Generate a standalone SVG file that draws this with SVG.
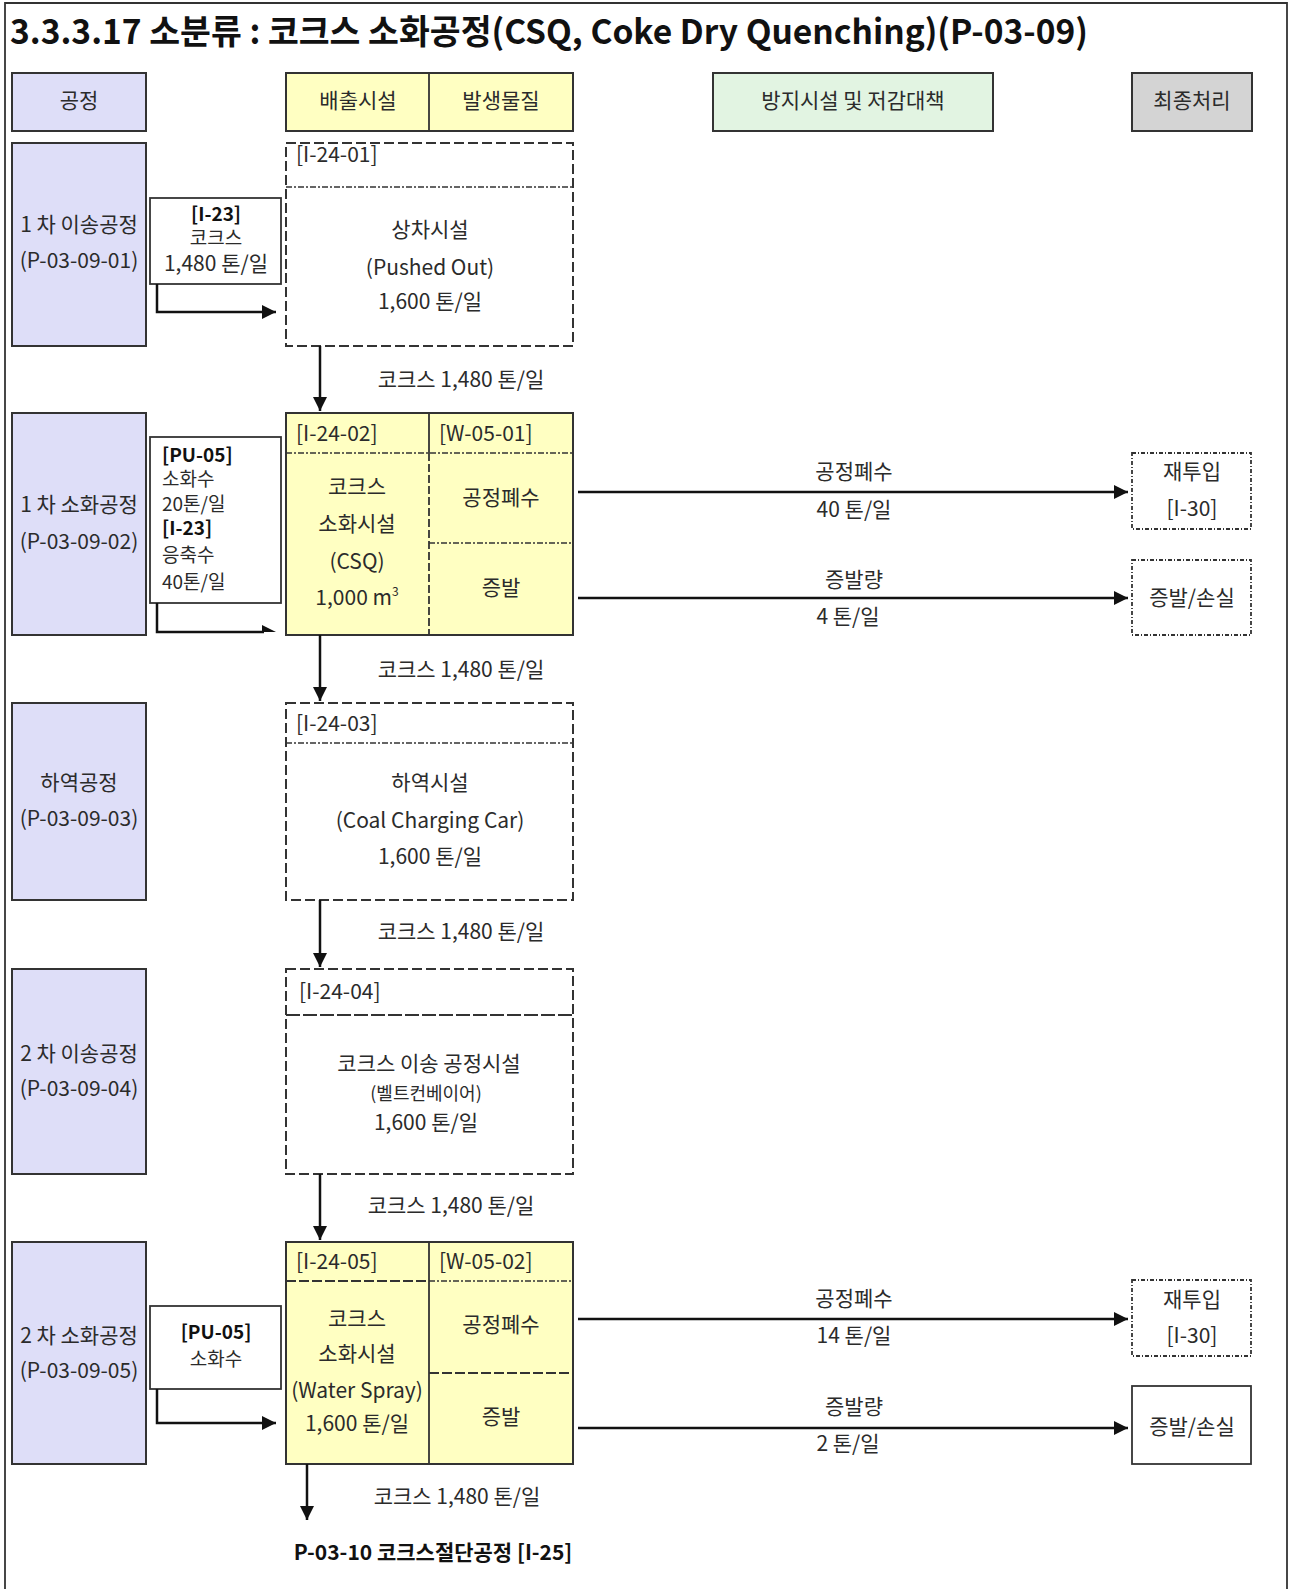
<svg xmlns="http://www.w3.org/2000/svg" width="1289" height="1589" viewBox="0 0 1289 1589">
<style>
.t{font-family:"Noto Sans CJK KR","Noto Sans",sans-serif;font-size:21px;fill:#2b2b2b}
.s{font-size:19px}
.ttl{font-size:34px}
.sm{font-size:18px}
.c{text-anchor:middle}
.b{font-weight:bold;fill:#111}
.proc{fill:#DEDEF8;stroke:#333;stroke-width:2}
.yel{fill:#FFFFC2;stroke:#333;stroke-width:2}
.grn{fill:#E2F4E2;stroke:#333;stroke-width:2}
.gry{fill:#D4D4D4;stroke:#333;stroke-width:2}
.box{fill:#fff;stroke:#333;stroke-width:1.8}
.dash{fill:#fff;stroke:#333;stroke-width:2;stroke-dasharray:10 4}
.dot{fill:none;stroke:#333;stroke-width:1.5;stroke-dasharray:6 2 2 2}
.ddot{fill:#fff;stroke:#333;stroke-width:1.8;stroke-dasharray:4 2 1 2}
.ln{fill:none;stroke:#333;stroke-width:1.8}
.conn{fill:none;stroke:#111;stroke-width:2.5}
</style>
<defs>
<marker id="arr" viewBox="0 0 14 14" refX="14" refY="7" markerWidth="14" markerHeight="14" orient="auto" markerUnits="userSpaceOnUse">
<path d="M0,0 L14,7 L0,14 z" fill="#111"/>
</marker>
</defs>
<rect width="1289" height="1589" fill="#fff"/>
<path d="M5,1589 V3 H1287 V1589" class="ln"/>
<text class="t b ttl" x="10" y="44" textLength="1078" lengthAdjust="spacingAndGlyphs">3.3.3.17 소분류 : 코크스 소화공정(CSQ, Coke Dry Quenching)(P-03-09)</text>

<g id="header">
<rect class="proc" x="12" y="73" width="134" height="58"/>
<text class="t c" x="79" y="108">공정</text>
<rect class="yel" x="286" y="73" width="287" height="58"/>
<line class="ln" x1="429" y1="73" x2="429" y2="131"/>
<text class="t c" x="358" y="108">배출시설</text>
<text class="t c" x="501" y="108">발생물질</text>
<rect class="grn" x="713" y="73" width="280" height="58"/>
<text class="t c" x="853" y="108">방지시설 및 저감대책</text>
<rect class="gry" x="1132" y="73" width="120" height="58"/>
<text class="t c" x="1192" y="108">최종처리</text>
</g>

<g id="p1">
<rect class="proc" x="12" y="143" width="134" height="203"/>
<text class="t c" x="79" y="232">1 차 이송공정</text>
<text class="t c" x="79" y="268">(P-03-09-01)</text>
</g>
<g id="in1">
<rect class="box" x="150" y="198" width="131" height="86"/>
<text class="t s c b" x="216" y="221">[I-23]</text>
<text class="t s c" x="216" y="245">코크스</text>
<text class="t c" x="216" y="271">1,480 톤/일</text>
</g>
<g id="f1">
<rect class="dash" x="286" y="143" width="287" height="203"/>
<line class="dot" x1="286" y1="187" x2="573" y2="187"/>
<text class="t" x="296" y="162">[I-24-01]</text>
<text class="t c" x="430" y="237">상차시설</text>
<text class="t c" x="430" y="275">(Pushed Out)</text>
<text class="t c" x="430" y="309">1,600 톤/일</text>
</g>

<g id="p2">
<rect class="proc" x="12" y="413" width="134" height="222"/>
<text class="t c" x="79" y="512">1 차 소화공정</text>
<text class="t c" x="79" y="549">(P-03-09-02)</text>
</g>
<g id="in2">
<rect class="box" x="150" y="437" width="131" height="166"/>
<text class="t s b" x="162" y="462">[PU-05]</text>
<text class="t s" x="162" y="486">소화수</text>
<text class="t s" x="162" y="511">20톤/일</text>
<text class="t s b" x="162" y="535">[I-23]</text>
<text class="t s" x="162" y="562">응축수</text>
<text class="t s" x="162" y="589">40톤/일</text>
</g>
<g id="f2">
<rect class="yel" x="286" y="413" width="287" height="222"/>
<line class="ln" x1="429" y1="413" x2="429" y2="453"/>
<line class="ln" x1="429" y1="453" x2="429" y2="635" stroke-dasharray="8 3"/>
<line class="dot" x1="286" y1="453" x2="573" y2="453"/>
<line class="dot" x1="429" y1="543" x2="573" y2="543"/>
<text class="t" x="296" y="441">[I-24-02]</text>
<text class="t" x="439" y="441">[W-05-01]</text>
<text class="t c" x="357" y="494">코크스</text>
<text class="t c" x="357" y="531">소화시설</text>
<text class="t c" x="357" y="569">(CSQ)</text>
<text class="t c" x="357" y="605">1,000 m<tspan font-size="12" dy="-9">3</tspan></text>
<text class="t c" x="501" y="505">공정폐수</text>
<text class="t c" x="501" y="595">증발</text>
</g>
<g id="r2a">
<rect class="ddot" x="1132" y="453" width="119" height="76"/>
<text class="t c" x="1192" y="479">재투입</text>
<text class="t c" x="1192" y="516">[I-30]</text>
</g>
<g id="r2b">
<rect class="ddot" x="1132" y="560" width="119" height="75"/>
<text class="t c" x="1192" y="605">증발/손실</text>
</g>

<g id="p3">
<rect class="proc" x="12" y="703" width="134" height="197"/>
<text class="t c" x="79" y="790">하역공정</text>
<text class="t c" x="79" y="826">(P-03-09-03)</text>
</g>
<g id="f3">
<rect class="dash" x="286" y="703" width="287" height="197"/>
<line class="dot" x1="286" y1="743" x2="573" y2="743"/>
<text class="t" x="296" y="731">[I-24-03]</text>
<text class="t c" x="430" y="790">하역시설</text>
<text class="t c" x="430" y="828">(Coal Charging Car)</text>
<text class="t c" x="430" y="864">1,600 톤/일</text>
</g>

<g id="p4">
<rect class="proc" x="12" y="969" width="134" height="205"/>
<text class="t c" x="79" y="1061">2 차 이송공정</text>
<text class="t c" x="79" y="1096">(P-03-09-04)</text>
</g>
<g id="f4">
<rect class="dash" x="286" y="969" width="287" height="205"/>
<line class="ln" x1="286" y1="1015" x2="573" y2="1015" stroke-dasharray="14 3"/>
<text class="t" x="299" y="999">[I-24-04]</text>
<text class="t c" x="429" y="1071">코크스 이송 공정시설</text>
<text class="t c sm" x="426" y="1100">(벨트컨베이어)</text>
<text class="t c" x="426" y="1130">1,600 톤/일</text>
</g>

<g id="p5">
<rect class="proc" x="12" y="1242" width="134" height="222"/>
<text class="t c" x="79" y="1343">2 차 소화공정</text>
<text class="t c" x="79" y="1378">(P-03-09-05)</text>
</g>
<g id="in5">
<rect class="box" x="150" y="1306" width="131" height="83"/>
<text class="t s c b" x="216" y="1339">[PU-05]</text>
<text class="t s c" x="216" y="1366">소화수</text>
</g>
<g id="f5">
<rect class="yel" x="286" y="1242" width="287" height="222"/>
<line class="ln" x1="429" y1="1242" x2="429" y2="1464"/>
<line class="ln" x1="286" y1="1281" x2="429" y2="1281" stroke-dasharray="10 3"/>
<line class="dot" x1="429" y1="1281" x2="573" y2="1281"/>
<line class="ln" x1="429" y1="1373" x2="573" y2="1373" stroke-dasharray="10 3"/>
<text class="t" x="296" y="1269">[I-24-05]</text>
<text class="t" x="439" y="1269">[W-05-02]</text>
<text class="t c" x="357" y="1326">코크스</text>
<text class="t c" x="357" y="1361">소화시설</text>
<text class="t c" x="357" y="1398">(Water Spray)</text>
<text class="t c" x="357" y="1431">1,600 톤/일</text>
<text class="t c" x="501" y="1332">공정폐수</text>
<text class="t c" x="501" y="1424">증발</text>
</g>
<g id="r5a">
<rect class="ddot" x="1132" y="1280" width="119" height="76"/>
<text class="t c" x="1192" y="1307">재투입</text>
<text class="t c" x="1192" y="1343">[I-30]</text>
</g>
<g id="r5b">
<rect class="box" x="1132" y="1386" width="119" height="78"/>
<text class="t c" x="1192" y="1434">증발/손실</text>
</g>

<g id="connectors">
<path class="conn" d="M157,284 V312 H276" marker-end="url(#arr)"/>
<path class="conn" d="M320,346 V411" marker-end="url(#arr)"/>
<text class="t c" x="461" y="387">코크스 1,480 톤/일</text>
<path class="conn" d="M157,603 V632 H264"/>
<path d="M262,625 L276,632 L262,632 z" fill="#111"/>
<path class="conn" d="M578,492 H1128" marker-end="url(#arr)"/>
<text class="t c" x="854" y="479">공정폐수</text>
<text class="t c" x="854" y="517">40 톤/일</text>
<path class="conn" d="M578,598 H1128" marker-end="url(#arr)"/>
<text class="t c" x="854" y="587">증발량</text>
<text class="t c" x="848" y="624">4 톤/일</text>
<path class="conn" d="M320,635 V701" marker-end="url(#arr)"/>
<text class="t c" x="461" y="677">코크스 1,480 톤/일</text>
<path class="conn" d="M320,900 V967" marker-end="url(#arr)"/>
<text class="t c" x="461" y="939">코크스 1,480 톤/일</text>
<path class="conn" d="M320,1174 V1240" marker-end="url(#arr)"/>
<text class="t c" x="451" y="1213">코크스 1,480 톤/일</text>
<path class="conn" d="M157,1389 V1423 H276" marker-end="url(#arr)"/>
<path class="conn" d="M578,1319 H1128" marker-end="url(#arr)"/>
<text class="t c" x="854" y="1306">공정폐수</text>
<text class="t c" x="854" y="1343">14 톤/일</text>
<path class="conn" d="M578,1428 H1128" marker-end="url(#arr)"/>
<text class="t c" x="854" y="1414">증발량</text>
<text class="t c" x="848" y="1451">2 톤/일</text>
<path class="conn" d="M307,1464 V1520" marker-end="url(#arr)"/>
<text class="t c" x="457" y="1504">코크스 1,480 톤/일</text>
<text class="t c b" x="433" y="1560">P-03-10 코크스절단공정 [I-25]</text>
</g>
</svg>
